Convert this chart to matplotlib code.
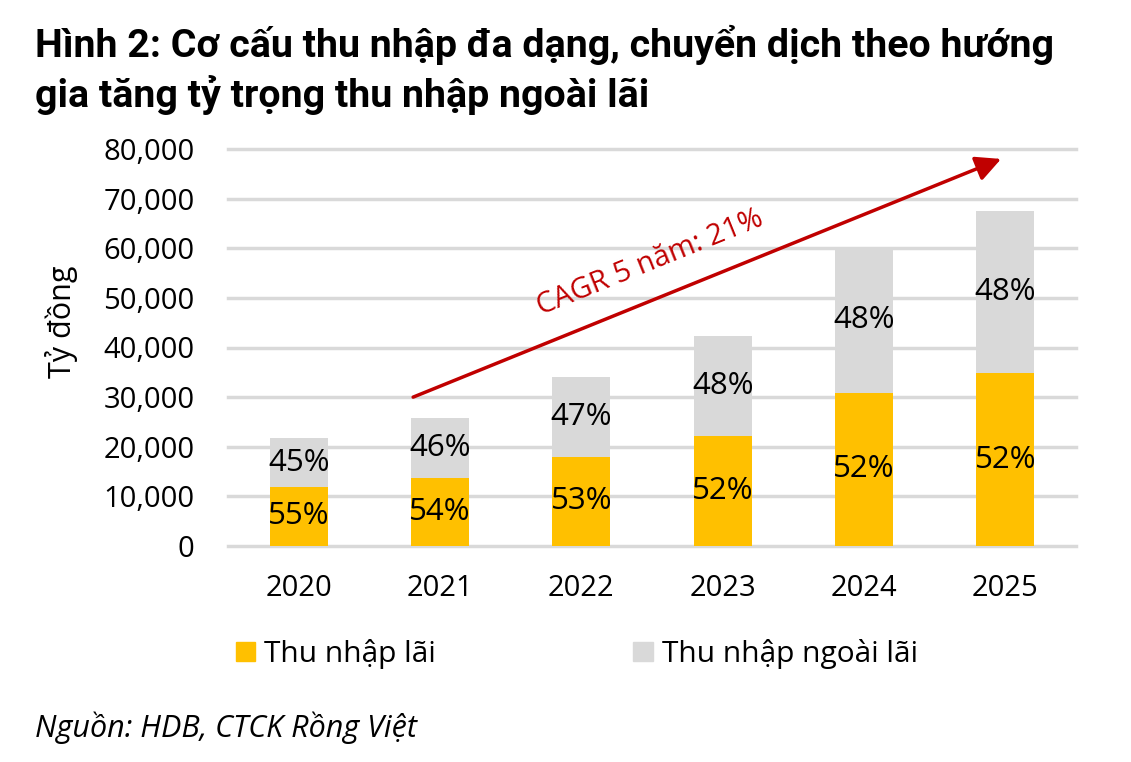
import matplotlib
matplotlib.use("Agg")
import matplotlib.pyplot as plt
from matplotlib.patches import Patch
from matplotlib.ticker import FuncFormatter

plt.rcParams["font.family"] = ["Open Sans", "DejaVu Sans"]

# Data (ty dong)
years = ["2020", "2021", "2022", "2023", "2024", "2025"]
interest = [11900, 13800, 18000, 22100, 30900, 34800]
non_interest = [9800, 12000, 16100, 20200, 29100, 32700]
interest_pct = ["55%", "54%", "53%", "52%", "52%", "52%"]
non_interest_pct = ["45%", "46%", "47%", "48%", "48%", "48%"]

yellow = "#FFC000"
grey = "#D9D9D9"
red = "#C00000"

fig = plt.figure(figsize=(11.31, 7.62), dpi=100)
ax = fig.add_axes([228 / 1131, 1 - 546 / 762, 848 / 1131, 397 / 762])

x = list(range(len(years)))
ax.bar(x, interest, width=0.41, color=yellow, zorder=3)
ax.bar(x, non_interest, width=0.41, bottom=interest, color=grey, zorder=3)

# percentage labels in the middle of each segment
for i in x:
    ax.text(i, interest[i] / 2, interest_pct[i], ha="center", va="center",
            fontsize=22.5, color="black", zorder=4)
    ax.text(i, interest[i] + non_interest[i] / 2, non_interest_pct[i],
            ha="center", va="center", fontsize=22.5, color="black", zorder=4)

ax.set_xlim(-0.5, len(years) - 0.5)
ax.set_ylim(0, 80000)
ax.set_yticks(range(0, 80001, 10000))
ax.yaxis.set_major_formatter(FuncFormatter(lambda v, p: f"{int(v):,}"))
ax.set_xticks(x)
ax.set_xticklabels(years)
ax.tick_params(axis="y", length=0, pad=24, labelsize=21)
ax.tick_params(axis="x", length=0, pad=20, labelsize=21)
ax.grid(axis="y", color=grey, lw=2.5, zorder=0)
for gl in ax.get_ygridlines():
    gl.set_clip_on(False)
for s in ax.spines.values():
    s.set_visible(False)

# CAGR arrow
ax.annotate("", xy=(4.97, 78000), xytext=(0.81, 30000),
            arrowprops=dict(arrowstyle="-|>", color=red, lw=2.5,
                            mutation_scale=38, shrinkA=0, shrinkB=0),
            zorder=5)
ax.text(2.49, 57000, "CAGR 5 năm: 21%", color=red, fontsize=21,
        rotation=22, ha="center", va="center", rotation_mode="anchor")

# legend
handles = [Patch(color=yellow, label="Thu nhập lãi"),
           Patch(color=grey, label="Thu nhập ngoài lãi")]
fig.legend(handles=handles, loc="center", bbox_to_anchor=(0.51, 1 - 654 / 762),
           ncol=2, frameon=False, fontsize=21.5, handlelength=0.65,
           handleheight=0.65, handletextpad=0.3, columnspacing=6.6)

fig.text(62 / 1131, 1 - 322 / 762, "Tỷ đồng", rotation=90, ha="center",
         va="center", fontsize=22)

title_font = ["Roboto", "DejaVu Sans"]
fig.text(35 / 1131, 1 - 57 / 762,
         "Hình 2: Cơ cấu thu nhập đa dạng, chuyển dịch theo hướng",
         fontsize=28.4, fontweight="bold", family=title_font, va="baseline")
fig.text(35 / 1131, 1 - 107 / 762, "gia tăng tỷ trọng thu nhập ngoài lãi",
         fontsize=28.4, fontweight="bold", family=title_font, va="baseline")

fig.text(35 / 1131, 1 - 728 / 762, "Nguồn: HDB, CTCK Rồng Việt",
         fontsize=22, style="italic", va="center")

fig.savefig("out.png", dpi=100)
